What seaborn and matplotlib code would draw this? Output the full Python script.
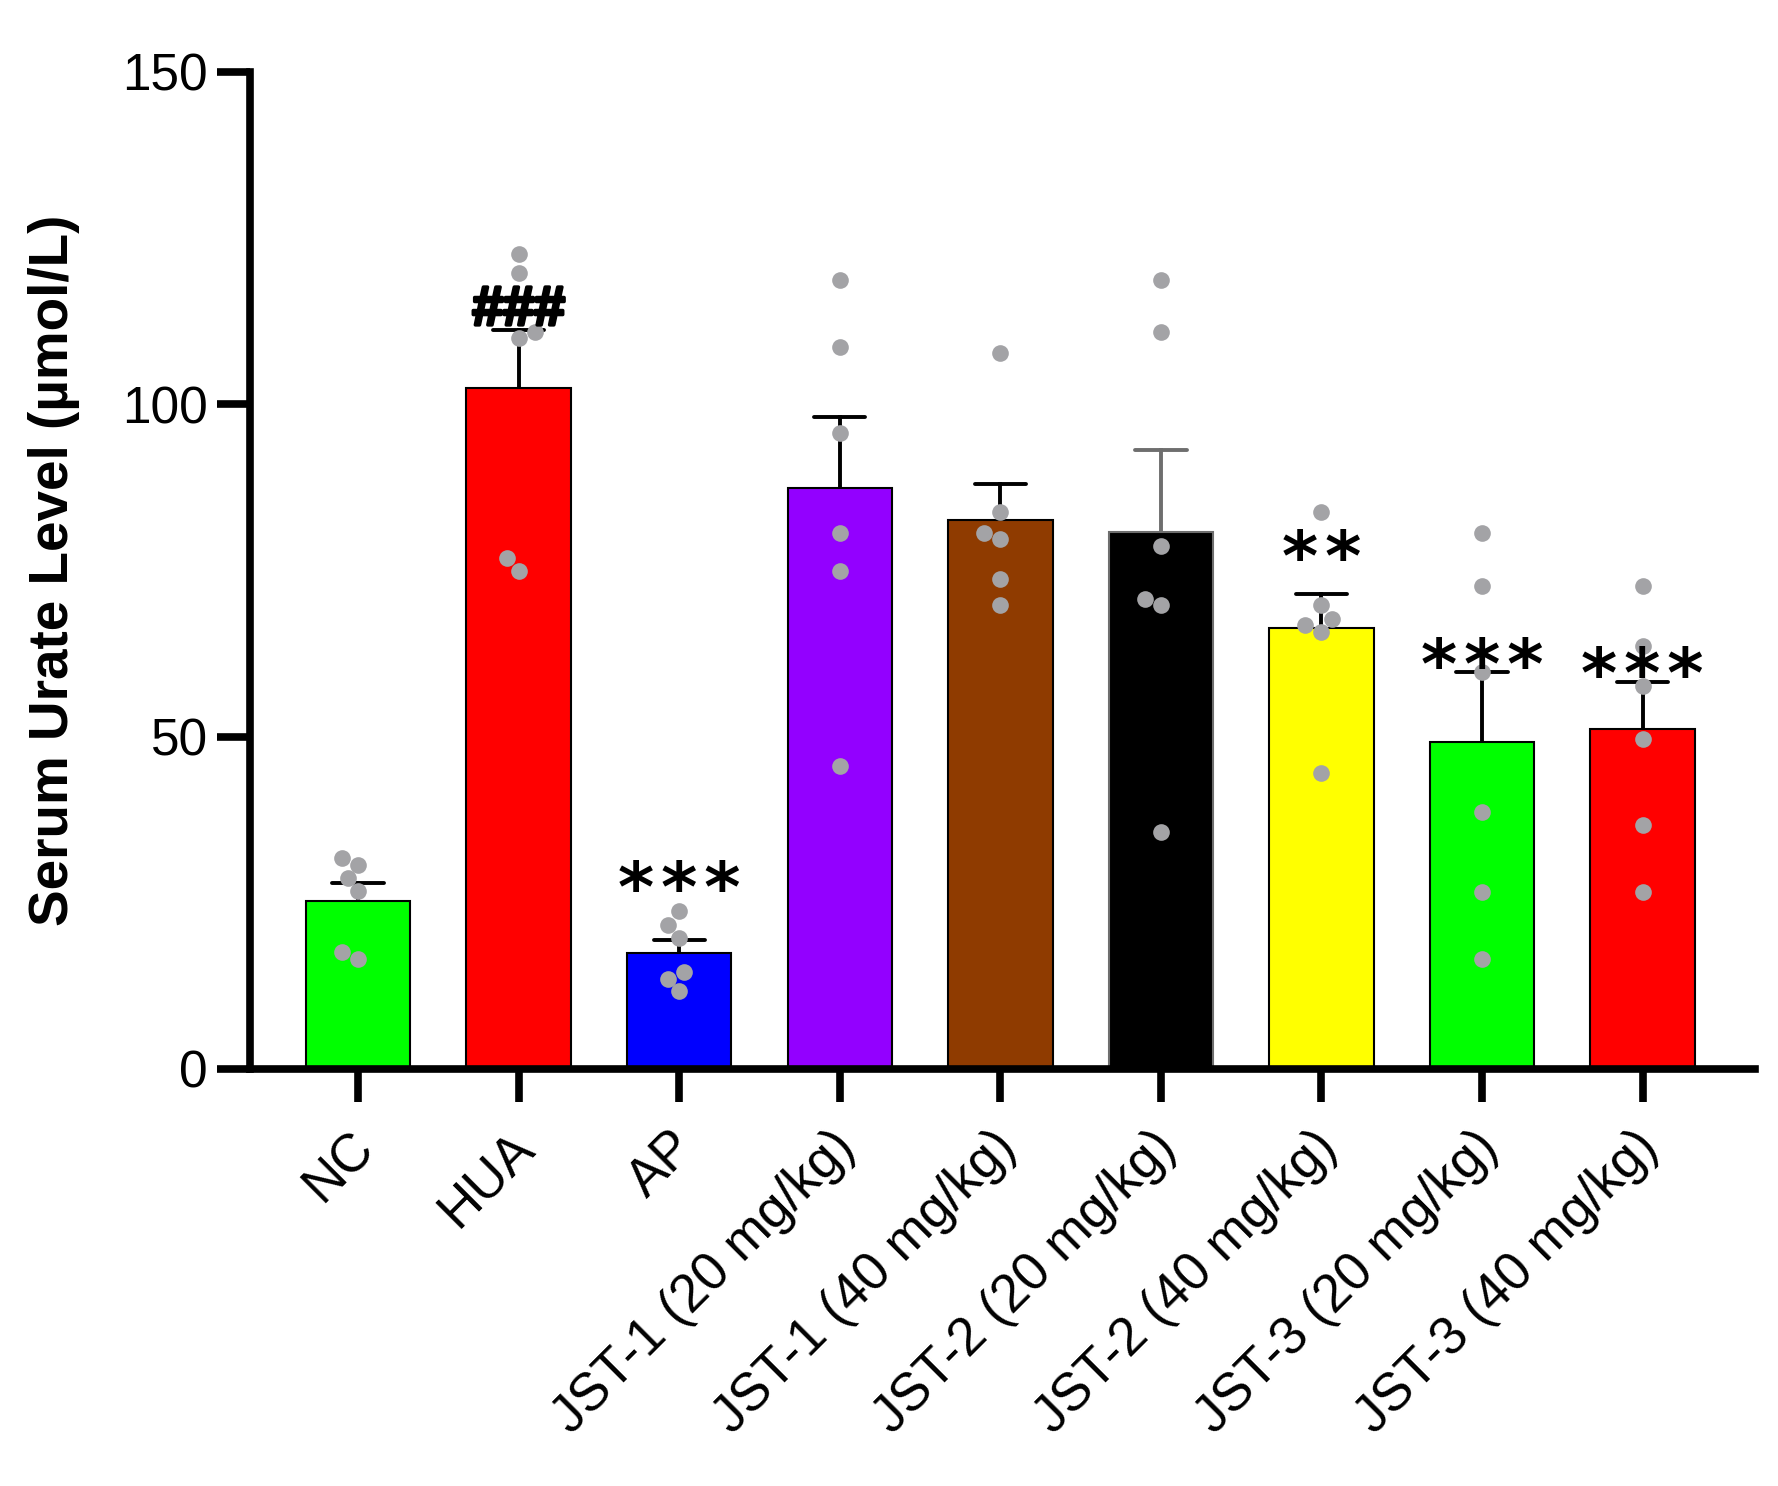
import numpy as np
import pandas as pd
import matplotlib
matplotlib.use("Agg")
import matplotlib.pyplot as plt
import matplotlib.transforms as mtransforms
import matplotlib.patheffects as pe
import seaborn as sns

# groups on the x axis and their bar colours
groups = ["NC", "HUA", "AP", "JST-1 (20 mg/kg)", "JST-1 (40 mg/kg)",
          "JST-2 (20 mg/kg)", "JST-2 (40 mg/kg)", "JST-3 (20 mg/kg)", "JST-3 (40 mg/kg)"]
bar_colors = ["#00ff00", "#ff0000", "#0000ff", "#9300ff", "#8f3b00",
              "#000000", "#ffff00", "#00ff00", "#ff0000"]

# individual animals (umol/L)
nc = [30.7, 31.7, 26.7, 28.7, 16.6, 17.6]
hua = [122.6, 119.7, 109.9, 110.8, 74.9, 76.8]
ap = [23.7, 21.6, 19.7, 14.6, 13.6, 11.7]
jst1_20 = [118.7, 108.6, 95.7, 80.6, 74.9, 45.6]
jst1_40 = [107.7, 83.7, 80.6, 79.7, 73.7, 69.8]
jst2_20 = [118.7, 110.8, 78.7, 70.7, 69.8, 35.7]
jst2_40 = [83.7, 69.8, 67.7, 66.7, 65.7, 44.5]
jst3_20 = [80.6, 72.7, 59.7, 38.6, 26.6, 16.5]
jst3_40 = [72.7, 63.6, 57.6, 49.6, 36.7, 26.6]

# significance marks and the height they sit at
hs = "\u200a"
sig_text = ["", "###", hs.join("***"), "", "", "", hs.join("**"), hs.join("***"), hs.join("***")]
sig_y = [None, 114.0, 26.7, None, None, None, 76.5, 60.2, 58.8]

all_vals = [nc, hua, ap, jst1_20, jst1_40, jst2_20, jst2_40, jst3_20, jst3_40]
df = pd.DataFrame({
    "group": np.repeat(groups, [len(v) for v in all_vals]),
    "value": np.concatenate(all_vals),
})

sns.set_theme(style="ticks", rc={"axes.edgecolor": "black", "xtick.color": "black",
                                 "ytick.color": "black", "text.color": "black",
                                 "axes.labelcolor": "black"})
plt.rcParams["font.family"] = ["Liberation Sans", "DejaVu Sans"]

fig = plt.figure(figsize=(17.78, 14.86), dpi=100)
ax = fig.add_axes([250 / 1778, 417 / 1486, 1505 / 1778, 997.5 / 1486])

sns.barplot(data=df, x="group", y="value", hue="group", order=groups, hue_order=groups,
            palette=dict(zip(groups, bar_colors)), saturation=1, errorbar="se",
            capsize=0.32, width=0.65, edgecolor="black", linewidth=1.5,
            err_kws={"color": "black", "linewidth": 2.8, "zorder": 0.5},
            legend=False, ax=ax)

# the black bar gets grey outline + error bar
for p in ax.patches:
    if abs(p.get_x() + p.get_width() / 2 - 5) < 0.1:
        p.set_edgecolor("#6e6e6e")
for ln in ax.lines:
    xd = np.asarray(ln.get_xdata(), dtype=float)
    if xd.size and abs(np.nanmean(xd) - 5) < 0.3:
        ln.set_color("#6e6e6e")

sns.swarmplot(data=df, x="group", y="value", order=groups, color="#a3a3a6",
              size=12, zorder=3, ax=ax)

ax.set_xlim(-0.673, 8.70)
ax.set_ylim(0, 150)
ax.set_yticks([0, 50, 100, 150])
sns.despine(ax=ax)
for s in ["left", "bottom"]:
    ax.spines[s].set_linewidth(5.5)
ax.tick_params(axis="both", width=5.5, length=24)
ax.tick_params(axis="y", labelsize=37, pad=6.5)
ax.tick_params(axis="x", labelsize=38, pad=14)
ax.set_xlabel("")
ax.set_ylabel("Serum Urate Level (µmol/L)", fontsize=39.5, fontweight="bold", labelpad=30)

shift = mtransforms.ScaledTranslation(-10 / 100, 0, fig.dpi_scale_trans)
for lab in ax.get_xticklabels():
    lab.set_rotation(45)
    lab.set_ha("right")
    lab.set_va("top")
    lab.set_rotation_mode("anchor")
    lab.set_transform(lab.get_transform() + shift)

for i, (t, yv) in enumerate(zip(sig_text, sig_y)):
    if not t:
        continue
    if t.startswith("#"):
        ax.text(i, yv, t, ha="center", va="center", fontsize=40, fontweight="bold", zorder=4,
                path_effects=[pe.withStroke(linewidth=2.5, foreground="black")])
    else:
        ax.text(i, yv, t, ha="center", va="center", fontsize=50, fontweight="bold",
                family="DejaVu Sans", zorder=4)

fig.savefig("out.png", dpi=100)
